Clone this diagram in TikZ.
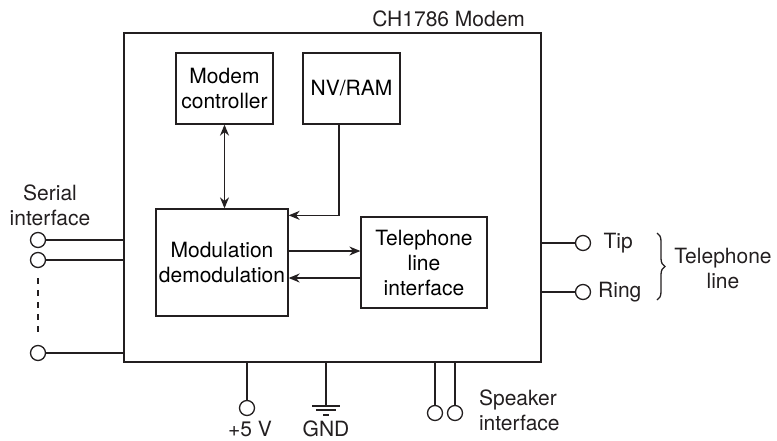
\documentclass[tikz,border=0pt]{standalone}
\usepackage{fontspec}
\setmainfont{TeX Gyre Heros}
\usetikzlibrary{arrows.meta,calc,positioning,decorations.pathreplacing}
\definecolor{Ink}{HTML}{231F20}
\tikzset{block/.style={draw=Ink,line width=.65pt,align=center,inner sep=0pt},port/.style={circle,draw=Ink,line width=.65pt,minimum size=7.5pt,inner sep=0pt},wire/.style={draw=Ink,line width=.65pt},flow/.style={-{Stealth[length=5.5pt,width=4.5pt]},line width=.65pt,draw=Ink},label/.style={text=Ink,align=center}}

\begin{document}
\begin{tikzpicture}[x=.5pt,y=-.5pt,font=\fontsize{10.5}{12.5}\selectfont]
        \useasboundingbox(0,0)rectangle(777,440);
        % modem body and inner blocks
        \node[block,minimum width=208.5pt,minimum height=164.5pt](modem)at(332.5,197.5){};
        \node[label,anchor=base east](title)at(532,26){CH1786 Modem};
        \node[block,minimum width=48.5pt,minimum height=35.5pt](ctrl)at(224.5,88.5){Modem\\controller};
        \node[block,minimum width=48.5pt,minimum height=35.5pt](nvram)at(351.5,88.5){NV/RAM};
        \node[block,minimum width=66pt,minimum height=53.5pt](modul)at(222,262.5){Modulation\\demodulation};
        \node[block,minimum width=63pt,minimum height=45.5pt](tli)at(424,262.5){Telephone\\line\\interface};
        \draw[flow,{Stealth[length=5.5pt,width=4.5pt]}-{Stealth[length=5.5pt,width=4.5pt]}](ctrl.south)--(ctrl.south|-modul.north);
        \draw[flow]([xshift=-6.25pt]nvram.south)|-([yshift=-3.5pt]modul.north east);
        \draw[flow]([yshift=5.75pt]modul.east)--([yshift=5.75pt]modul.east-|tli.west);
        \draw[flow]([yshift=-7.75pt]tli.west)--([yshift=-7.75pt]tli.west-|modul.east);
        % serial interface
        \node[label](serlbl)at(50,205){Serial\\interface};
        \foreach \n/\y in {1/240,2/260,3/353}{
          \node[port](ser\n)at(38,\y){};
          \draw[wire](ser\n)--(ser\n-|modem.west);
        }
        \draw[wire,dashed]([yshift=-5pt]ser2.south)--([yshift=4.5pt]ser3.north);
        % telephone line
        \node[port](tip)at(583,243){};
        \node[port](ring)at(583,292){};
        \draw[wire](tip)--(tip-|modem.east);
        \draw[wire](ring)--(ring-|modem.east);
        \node[label,right=2.7pt of tip](tiplbl){Tip};
        \node[label,right=0pt of ring](ringlbl){Ring};
        \coordinate(bracetop)at(657,233);
        \coordinate(bracebot)at(657,300);
        \draw[wire,decorate,decoration={brace,amplitude=4pt}](bracetop)--(bracebot);
        \node[label](linelbl)at(723,268){Telephone\\line};
        % supply, ground and speaker
        \node[port](pwr)at(247,408){};
        \draw[wire](pwr)--(pwr|-modem.south);
        \node[label,inner sep=1pt](pwrlbl)at(250,429){+5 V};
        \coordinate(gnd)at(326,406);
        \draw[wire](gnd)--(gnd|-modem.south);
        \draw[wire]([xshift=-7pt]gnd)--([xshift=7pt]gnd);
        \draw[wire]([xshift=-5pt,yshift=-2pt]gnd)--([xshift=5pt,yshift=-2pt]gnd);
        \draw[wire]([xshift=-1.5pt,yshift=-4.5pt]gnd)--([xshift=1.5pt,yshift=-4.5pt]gnd);
        \node[label,inner sep=1pt](gndlbl)at(326,429){GND};
        \node[port](spk1)at(435,413){};
        \node[port](spk2)at(455,413){};
        \draw[wire](spk1)--(spk1|-modem.south);
        \draw[wire](spk2)--(spk2|-modem.south);
        \node[label,anchor=west,align=left](spklbl)at(472,410){Speaker\\interface};
      \end{tikzpicture}
\end{document}
